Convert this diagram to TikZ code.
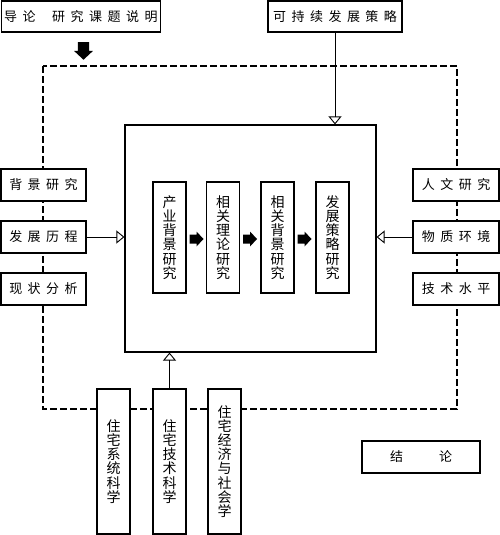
\documentclass[tikz,border=0pt]{standalone}
\usepackage{fontspec}
\setmainfont{Noto Sans CJK SC}
\usetikzlibrary{arrows.meta}
\newcommand\lsp{\kern5.5pt}
\tikzset{
  hbox/.style={draw, line width=1.2pt, fill=white, inner sep=0pt, font=\fontsize{13}{13}\selectfont},
  vbox/.style={draw, line width=1.2pt, fill=white, inner sep=0pt, align=center, minimum width=33pt, font=\fontsize{14}{14.2}\selectfont},
  conn/.style={line width=0.9pt, -{Triangle[open, width=13pt, length=8pt, line width=0.9pt]}},
  barrow/.pic={\fill (-7,-4.5)--(0,-4.5)--(0,-7.5)--(7,0)--(0,7.5)--(0,4.5)--(-7,4.5)--cycle;}
}
\begin{document}
\begin{tikzpicture}[x=1pt,y=-1pt]
\useasboundingbox (0,0) rectangle (500,535);
\draw[line width=1.2pt, dash pattern=on 7pt off 3pt] (43,66) rectangle (457,409);
% top
\node[hbox, minimum width=159pt, minimum height=31pt] (intro) at (81,16.5) {导\lsp 论\lsp\lsp\lsp 研\lsp 究\lsp 课\lsp 题\lsp 说\lsp 明};
\node[hbox, minimum width=134pt, minimum height=31pt] (sust) at (335,16.5) {可\lsp 持\lsp 续\lsp 发\lsp 展\lsp 策\lsp 略};
\pic at (83.5,51) [rotate=-90, scale=1.25] {barrow};
% inner box
\node[draw, line width=1.2pt, minimum width=251pt, minimum height=227pt, inner sep=0pt] (core) at (250.5,238.5) {};
% left
\node[hbox, minimum width=85pt, minimum height=32pt] (bg) at (43.5,185) {背\lsp 景\lsp 研\lsp 究};
\node[hbox, minimum width=85pt, minimum height=32pt] (hist) at (43.5,237) {发\lsp 展\lsp 历\lsp 程};
\node[hbox, minimum width=85pt, minimum height=32pt] (stat) at (43.5,289) {现\lsp 状\lsp 分\lsp 析};
% right
\node[hbox, minimum width=86pt, minimum height=32pt] (hum) at (456,185) {人\lsp 文\lsp 研\lsp 究};
\node[hbox, minimum width=86pt, minimum height=32pt] (env) at (456,237) {物\lsp 质\lsp 环\lsp 境};
\node[hbox, minimum width=86pt, minimum height=32pt] (tech) at (456,289) {技\lsp 术\lsp 水\lsp 平};
% inner columns
\node[vbox, minimum height=111pt] (c1) at (169.5,237.5) {产\\业\\背\\景\\研\\究};
\node[vbox, minimum height=111pt] (c2) at (223,237.5) {相\\关\\理\\论\\研\\究};
\node[vbox, minimum height=111pt] (c3) at (277.5,237.5) {相\\关\\背\\景\\研\\究};
\node[vbox, minimum height=111pt] (c4) at (332.5,237.5) {发\\展\\策\\略\\研\\究};
\pic at (196.5,239) {barrow};
\pic at (250,239) {barrow};
\pic at (304.5,239) {barrow};
% bottom columns
\node[vbox, minimum height=145pt] (b1) at (113.5,461.5) {住\\宅\\系\\统\\科\\学};
\node[vbox, minimum height=145pt] (b2) at (169.5,461.5) {住\\宅\\技\\术\\科\\学};
\node[vbox, minimum height=145pt] (b3) at (224.5,461.5) {住\\宅\\经\\济\\与\\社\\会\\学};
% conclusion
\node[hbox, minimum width=118pt, minimum height=32pt] (concl) at (421,457) {结\kern36pt 论};
% connectors
\draw[conn] (sust.south) -- (sust.south |- core.north);
\draw[conn] (hist.east) -- (hist.east -| core.west);
\draw[conn] (env.west) -- (env.west -| core.east);
\draw[conn] (b2.north) -- (b2.north |- core.south);
\end{tikzpicture}
\end{document}
